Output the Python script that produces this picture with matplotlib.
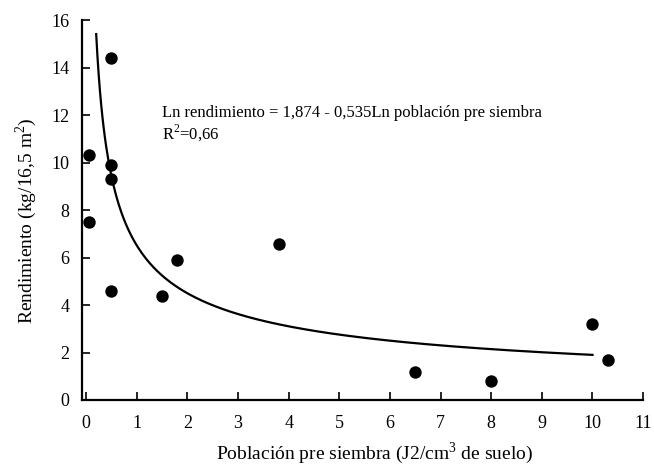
import numpy as np
import matplotlib
matplotlib.use("Agg")
import matplotlib.pyplot as plt

plt.rcParams['font.family'] = ['Liberation Serif', 'DejaVu Serif']
plt.rcParams['mathtext.fontset'] = 'custom'
plt.rcParams['mathtext.rm'] = 'Liberation Serif'

# Observed data
poblacion = [0.05, 0.05, 0.5, 0.5, 0.5, 0.5, 1.5, 1.8, 3.8, 6.5, 8.0, 10.0, 10.3]
rendimiento = [10.3, 7.5, 14.4, 9.9, 9.3, 4.6, 4.4, 5.9, 6.55, 1.2, 0.8, 3.2, 1.7]

# Fitted model: Ln y = a + b Ln x
a_coef = 1.874
b_coef = -0.535
curve_range = [0.2, 10.0]

xticks = list(range(0, 12))
yticks = list(range(0, 17, 2))

fig = plt.figure(figsize=(6.54, 4.65), dpi=100)
ax = fig.add_axes([0.1254, 0.1398, 0.858, 0.817])

xc = np.linspace(curve_range[0], curve_range[1], 400)
yc = np.exp(a_coef + b_coef * np.log(xc))
ax.plot(xc, yc, color='black', lw=1.6, zorder=2)
ax.scatter(poblacion, rendimiento, s=80, color='black', zorder=3, linewidths=0)

ax.set_xlim(-0.08, 11)
ax.set_ylim(0, 16)
ax.set_xticks(xticks)
ax.set_yticks(yticks)
for s in ['top', 'right']:
    ax.spines[s].set_visible(False)
for s in ['left', 'bottom']:
    ax.spines[s].set_linewidth(1.6)
ax.tick_params(direction='in', length=6, width=1.2, labelsize=13)
ax.tick_params(axis='x', pad=11)
ax.tick_params(axis='y', pad=9)

fig.text(374 / 654, 1 - 459 / 465, 'Población pre siembra (J2/cm$^3$ de suelo)',
         fontsize=14, ha='center', va='baseline')
fig.text(26 / 654, 1 - 221 / 465, 'Rendimiento (kg/16,5 m$^2$)',
         fontsize=14, ha='center', va='center', rotation=90)

ax.text(1.5, 11.6, 'Ln rendimiento = 1,874 - 0,535Ln población pre siembra\nR$^2$=0,66',
        fontsize=12, va='center', ha='left', linespacing=1.1)

fig.savefig('out.png', dpi=100)
